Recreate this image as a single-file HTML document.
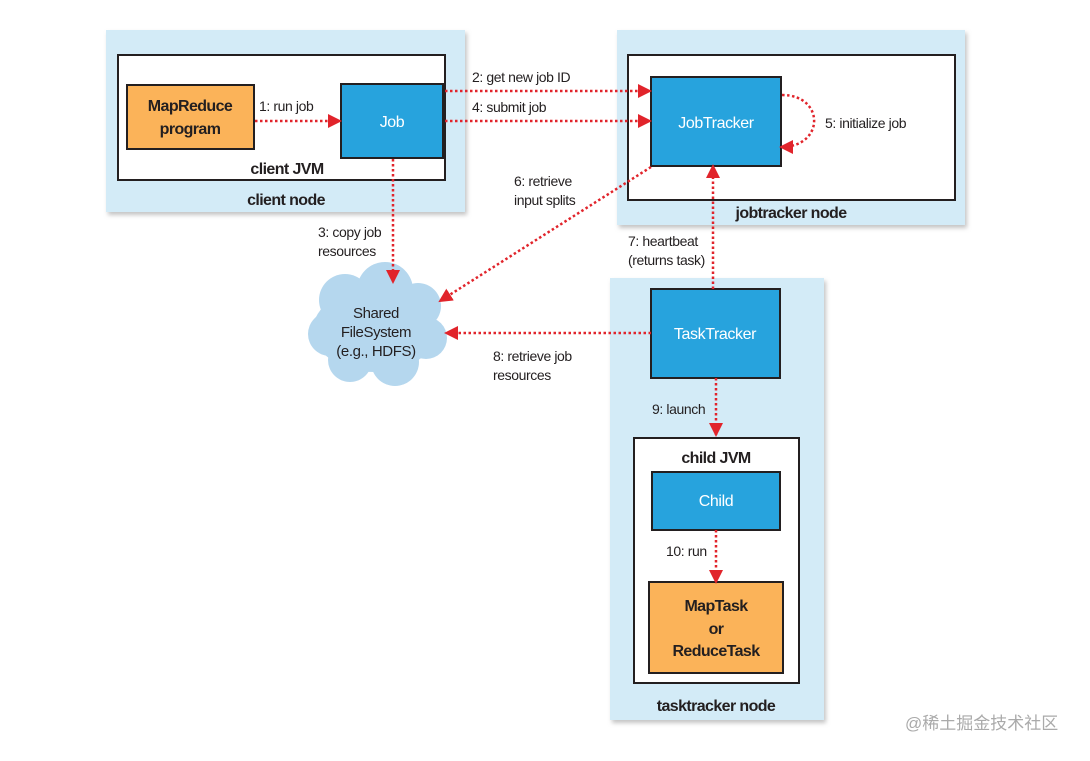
<!DOCTYPE html>
<html><head><meta charset="utf-8"><style>
body{margin:0;width:1090px;height:756px;background:#fff;overflow:hidden}
svg text{font-family:"Liberation Sans",sans-serif;font-size:14px;fill:#231f20;letter-spacing:-0.4px}
.b{font-weight:bold;font-size:16px;letter-spacing:-0.6px}
.w{fill:#fff;font-size:16px}
</style></head><body>
<svg width="1090" height="756" viewBox="0 0 1090 756">
<defs>
<marker id="a" markerWidth="16" markerHeight="16" refX="12" refY="7" orient="auto" markerUnits="userSpaceOnUse"><path d="M0,0 L14,7 L0,14 z" fill="#e1242b"/></marker>
<filter id="s" x="-5%" y="-5%" width="110%" height="110%"><feDropShadow dx="2" dy="3" stdDeviation="2" flood-color="#888" flood-opacity="0.5"/></filter>
</defs>
<rect x="106" y="30" width="359" height="182" fill="#d3ebf7" filter="url(#s)"/>
<rect x="617" y="30" width="348" height="195" fill="#d3ebf7" filter="url(#s)"/>
<rect x="610" y="278" width="214" height="442" fill="#d3ebf7" filter="url(#s)"/>
<rect x="118" y="55" width="327" height="125" fill="#fff" stroke="#231f20" stroke-width="2"/>
<rect x="628" y="55" width="327" height="145" fill="#fff" stroke="#231f20" stroke-width="2"/>
<rect x="634" y="438" width="165" height="245" fill="#fff" stroke="#231f20" stroke-width="2"/>
<rect x="127" y="85" width="127" height="64" fill="#fbb359" stroke="#231f20" stroke-width="2"/>
<rect x="341" y="84" width="102" height="74" fill="#27a3dd" stroke="#231f20" stroke-width="2"/>
<rect x="651" y="77" width="130" height="89" fill="#27a3dd" stroke="#231f20" stroke-width="2"/>
<rect x="651" y="289" width="129" height="89" fill="#27a3dd" stroke="#231f20" stroke-width="2"/>
<rect x="652" y="472" width="128" height="58" fill="#27a3dd" stroke="#231f20" stroke-width="2"/>
<rect x="649" y="582" width="134" height="91" fill="#fbb359" stroke="#231f20" stroke-width="2"/>
<g fill="#b5d7ee">
<ellipse cx="375" cy="330" rx="62" ry="42"/>
<circle cx="345" cy="300" r="26"/><circle cx="385" cy="290" r="28"/><circle cx="418" cy="306" r="23"/>
<circle cx="330" cy="334" r="22"/><circle cx="350" cy="360" r="22"/><circle cx="395" cy="362" r="24"/><circle cx="426" cy="338" r="21"/>
</g>
<text class="b" x="190" y="111" text-anchor="middle">MapReduce</text>
<text class="b" x="190" y="134" text-anchor="middle">program</text>
<text class="w" x="392" y="127" text-anchor="middle">Job</text>
<text class="w" x="716" y="128" text-anchor="middle">JobTracker</text>
<text class="w" x="715" y="339" text-anchor="middle">TaskTracker</text>
<text class="w" x="716" y="506" text-anchor="middle">Child</text>
<text class="b" x="716" y="611" text-anchor="middle">MapTask</text>
<text class="b" x="716" y="634" text-anchor="middle">or</text>
<text class="b" x="716" y="656" text-anchor="middle">ReduceTask</text>
<text class="b" x="287" y="174" text-anchor="middle">client JVM</text>
<text class="b" x="286" y="205" text-anchor="middle">client node</text>
<text class="b" x="791" y="218" text-anchor="middle">jobtracker node</text>
<text class="b" x="716" y="463" text-anchor="middle">child JVM</text>
<text class="b" x="716" y="711" text-anchor="middle">tasktracker node</text>
<text x="376" y="318" text-anchor="middle" style="font-size:15px">Shared</text>
<text x="376" y="337" text-anchor="middle" style="font-size:15px">FileSystem</text>
<text x="376" y="356" text-anchor="middle" style="font-size:15px">(e.g., HDFS)</text>
<text x="259" y="111">1: run job</text>
<text x="472" y="82">2: get new job ID</text>
<text x="472" y="112">4: submit job</text>
<text x="825" y="128">5: initialize job</text>
<text x="514" y="186">6: retrieve</text>
<text x="514" y="205">input splits</text>
<text x="318" y="237">3: copy job</text>
<text x="318" y="256">resources</text>
<text x="628" y="246">7: heartbeat</text>
<text x="628" y="265">(returns task)</text>
<text x="493" y="361">8: retrieve job</text>
<text x="493" y="380">resources</text>
<text x="652" y="414">9: launch</text>
<text x="666" y="556">10: run</text>
<text x="905" y="729" style="font-family:'Liberation Sans','Noto Sans CJK SC',sans-serif;font-size:17px;fill:#aaa;letter-spacing:0">@稀土掘金技术社区</text>
<g stroke="#e1242b" stroke-width="2.5" stroke-dasharray="2.5 2.5" fill="none" marker-end="url(#a)">
<line x1="255" y1="121" x2="340" y2="121"/>
<line x1="445" y1="91" x2="650" y2="91"/>
<line x1="445" y1="121" x2="650" y2="121"/>
<path d="M782,95 C825,95 825,147 781,147"/>
<line x1="393" y1="159" x2="393" y2="282"/>
<line x1="651" y1="167" x2="440" y2="301"/>
<line x1="713" y1="289" x2="713" y2="166"/>
<line x1="651" y1="333" x2="446" y2="333"/>
<line x1="716" y1="378" x2="716" y2="435"/>
<line x1="716" y1="530" x2="716" y2="582"/>
</g>
</svg>
</body></html>
